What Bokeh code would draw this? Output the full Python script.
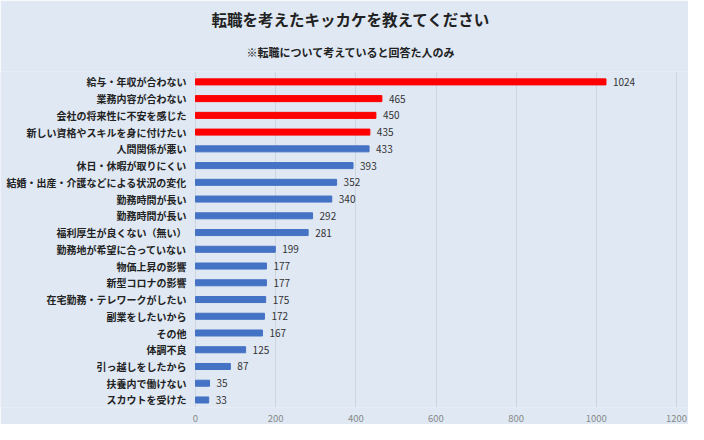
from bokeh.plotting import figure
from bokeh.models import ColumnDataSource, Range1d, FixedTicker, Title
from bokeh.core.properties import value
from bokeh.embed import file_html
from bokeh.resources import INLINE

categories = [
    "給与・年収が合わない",
    "業務内容が合わない",
    "会社の将来性に不安を感じた",
    "新しい資格やスキルを身に付けたい",
    "人間関係が悪い",
    "休日・休暇が取りにくい",
    "結婚・出産・介護などによる状況の変化",
    "勤務時間が長い",
    "勤務時間が長い",
    "福利厚生が良くない（無い）",
    "勤務地が希望に合っていない",
    "物価上昇の影響",
    "新型コロナの影響",
    "在宅勤務・テレワークがしたい",
    "副業をしたいから",
    "その他",
    "体調不良",
    "引っ越しをしたから",
    "扶養内で働けない",
    "スカウトを受けた",
]
values = [1024, 465, 450, 435, 433, 393, 352, 340, 292, 281, 199, 177, 177, 175, 172, 167, 125, 87, 35, 33]
highlight_count = 4
x_ticks = [0, 200, 400, 600, 800, 1000, 1200]

RED = "#ff0000"
BLUE = "#4472c4"
BG = "#dfe8f3"
FONT = "Noto Sans CJK JP"

positions = list(range(len(categories)))
colors = [RED if i < highlight_count else BLUE for i in positions]
src = ColumnDataSource(dict(
    y=positions,
    v=values,
    zero=[0] * len(values),
    cat=categories,
    lbl=[str(v) for v in values],
    color=colors,
))

# horizontal mapping: 0 at 195px, 1200 at 676px
scale = 481.0 / 1200.0
x_start = -195.0 / scale
x_end = x_start + 688.0 / scale

p = figure(
    width=688, height=424,
    output_backend="svg", toolbar_location=None,
    x_range=Range1d(x_start, x_end),
    y_range=Range1d(19.45, -0.62),
    min_border_left=0, min_border_right=0, min_border_top=71, min_border_bottom=0,
)
p.background_fill_color = BG
p.border_fill_color = BG
p.outline_line_color = None

p.add_layout(Title(text="※転職について考えていると回答た人のみ", align="left", offset=246,
                   text_font=FONT, text_font_size="11px", text_font_style="bold",
                   text_color="#222222", standoff=23), "above")
p.add_layout(Title(text="転職を考えたキッカケを教えてください", align="left", offset=211,
                   text_font=FONT, text_font_size="15.5px", text_font_style="bold",
                   text_color="#222222", standoff=2), "above")

p.hbar(y="y", left="zero", right="v", height=0.36, color="color", source=src)

p.text(x="zero", y="y", text="cat", source=src, x_offset=-9,
       text_align="right", text_baseline="middle",
       text_font=value(FONT), text_font_size="10px", text_font_style="bold",
       text_color="#222222")
p.text(x="v", y="y", text="lbl", source=src, x_offset=7,
       text_align="left", text_baseline="middle",
       text_font=value(FONT), text_font_size="10px", text_color="#333333")

p.yaxis.visible = False
p.ygrid.visible = False
p.xaxis.ticker = FixedTicker(ticks=x_ticks)
p.xgrid.ticker = FixedTicker(ticks=x_ticks)
p.xgrid.grid_line_color = "#cdd5de"
p.xaxis.axis_line_color = None
p.xaxis.major_tick_line_color = None
p.xaxis.minor_tick_line_color = None
p.xaxis.major_label_standoff = 1
p.xaxis.major_label_text_font = FONT
p.xaxis.major_label_text_font_size = "9.5px"
p.xaxis.major_label_text_color = "#888888"

open("out.html", "w").write(file_html(p, INLINE))
